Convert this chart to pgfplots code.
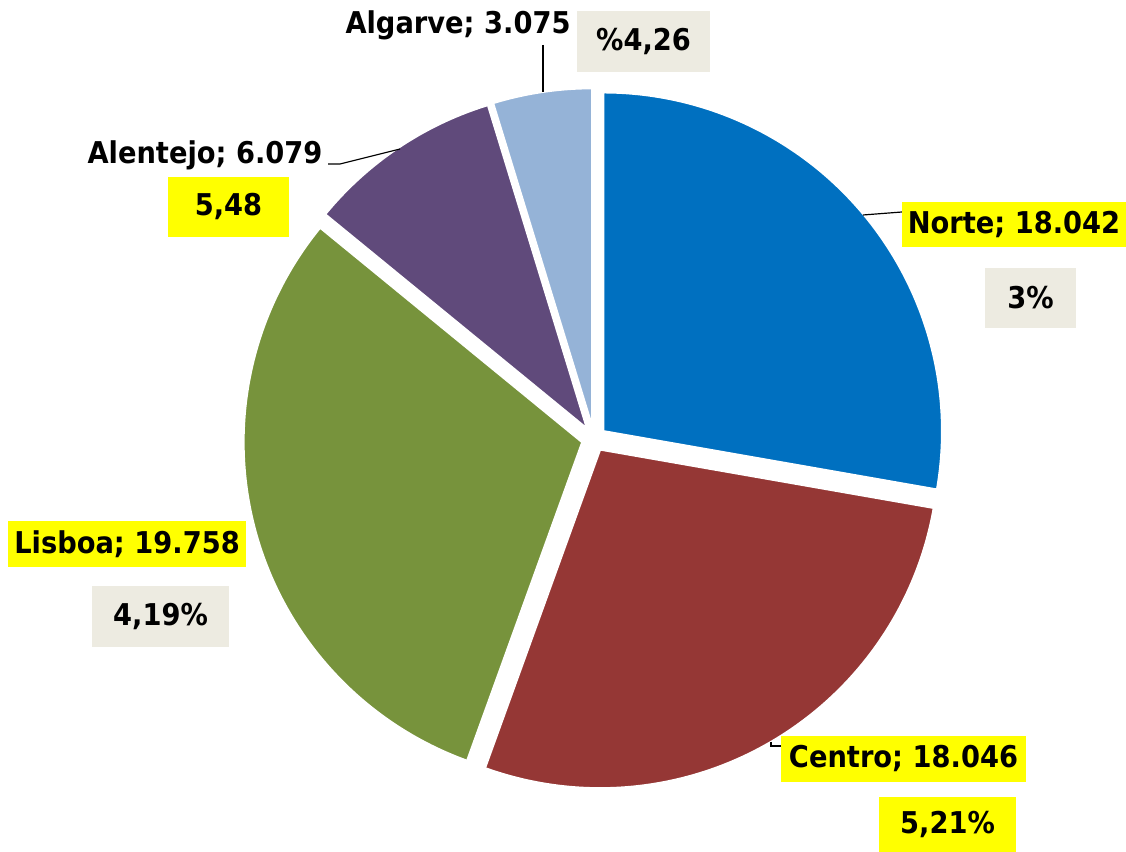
\documentclass[border=0pt]{standalone}
\usepackage{pgfplots}
\pgfplotsset{compat=1.18}
\usepackage{pgfplotstable}
\usetikzlibrary{calc}
\usepackage{fontspec}
\setmainfont{DejaVu Sans}[FakeStretch=0.91]

\definecolor{cNorte}{HTML}{0070C0}
\definecolor{cCentro}{HTML}{953735}
\definecolor{cLisboa}{HTML}{77933C}
\definecolor{cAlentejo}{HTML}{604A7B}
\definecolor{cAlgarve}{HTML}{95B3D7}
\definecolor{boxgray}{HTML}{EDEBE1}
\definecolor{hl}{HTML}{FFFF00}

\tikzset{lbl/.style={font=\bfseries\fontsize{15}{18}\selectfont, inner sep=0pt, anchor=center}}

\pgfplotstableread{
region value
Norte 18.042
Centro 18.046
Lisboa 19.758
Alentejo 6.079
Algarve 3.075
}\piedata

% angles of the slices, clockwise from the top
\pgfplotstablegetelem{0}{value}\of\piedata \let\vA\pgfplotsretval
\pgfplotstablegetelem{1}{value}\of\piedata \let\vB\pgfplotsretval
\pgfplotstablegetelem{2}{value}\of\piedata \let\vC\pgfplotsretval
\pgfplotstablegetelem{3}{value}\of\piedata \let\vD\pgfplotsretval
\pgfplotstablegetelem{4}{value}\of\piedata \let\vE\pgfplotsretval
\pgfmathsetmacro\tot{\vA+\vB+\vC+\vD+\vE}
\pgfmathsetmacro\aA{90}
\pgfmathsetmacro\aB{\aA-360*\vA/\tot}
\pgfmathsetmacro\aC{\aB-360*\vB/\tot}
\pgfmathsetmacro\aD{\aC-360*\vC/\tot}
\pgfmathsetmacro\aE{\aD-360*\vD/\tot}
\pgfmathsetmacro\aF{\aE-360*\vE/\tot}
\newcommand\pieslice[3]{%
  \fill[#3, draw=white, line width=1.2pt, line join=miter]
    ($(axis cs:594,413)+({(#1+#2)/2}:6pt)$) -- ++(#1:169.5pt)
    arc[start angle=#1, end angle=#2, radius=169.5pt] -- cycle;
}

\begin{document}
\begin{tikzpicture}
\begin{axis}[
  width=563pt, height=426pt, scale only axis,
  xmin=0, xmax=1126, ymin=0, ymax=852,
  hide axis, clip=false,
]
\path (axis cs:0,0) rectangle (axis cs:1126,852);

\pieslice{\aA}{\aB}{cNorte}
\pieslice{\aB}{\aC}{cCentro}
\pieslice{\aC}{\aD}{cLisboa}
\pieslice{\aD}{\aE}{cAlentejo}
\pieslice{\aE}{\aF}{cAlgarve}

% leader lines
\draw[black, line width=0.6pt] (axis cs:543,807) -- (axis cs:543,760);
\draw[black, line width=0.6pt] (axis cs:328,688) -- (axis cs:340,688) -- (axis cs:400,703);
\draw[black, line width=0.6pt] (axis cs:863,637) -- (axis cs:902,640);
\draw[black, line width=0.6pt] (axis cs:771,110) -- (axis cs:771,106) -- (axis cs:781,106);

% labels
\node[lbl] at (axis cs:458,827) {Algarve; 3.075};
\node[lbl, fill=boxgray, minimum width=66.5pt, minimum height=30.5pt] at (axis cs:643.5,810.5) {\%4,26};
\node[lbl] at (axis cs:205,697) {Alentejo; 6.079};
\node[lbl, fill=hl, minimum width=60.5pt, minimum height=30pt] at (axis cs:228.5,645) {5,48};
\node[lbl, fill=hl, minimum width=112pt, minimum height=22.5pt] at (axis cs:1014,627.5) {Norte; 18.042};
\node[lbl, fill=boxgray, minimum width=45.5pt, minimum height=30pt] at (axis cs:1030.5,554) {3\%};
\node[lbl, fill=hl, minimum width=119pt, minimum height=23pt] at (axis cs:127,308) {Lisboa; 19.758};
\node[lbl, fill=boxgray, minimum width=68.5pt, minimum height=30.5pt] at (axis cs:160.5,235.5) {4,19\%};
\node[lbl, fill=hl, minimum width=122.5pt, minimum height=23pt] at (axis cs:903.5,93) {Centro; 18.046};
\node[lbl, fill=hl, minimum width=68.5pt, minimum height=27.5pt] at (axis cs:947.5,27.5) {5,21\%};
\end{axis}
\end{tikzpicture}
\end{document}
